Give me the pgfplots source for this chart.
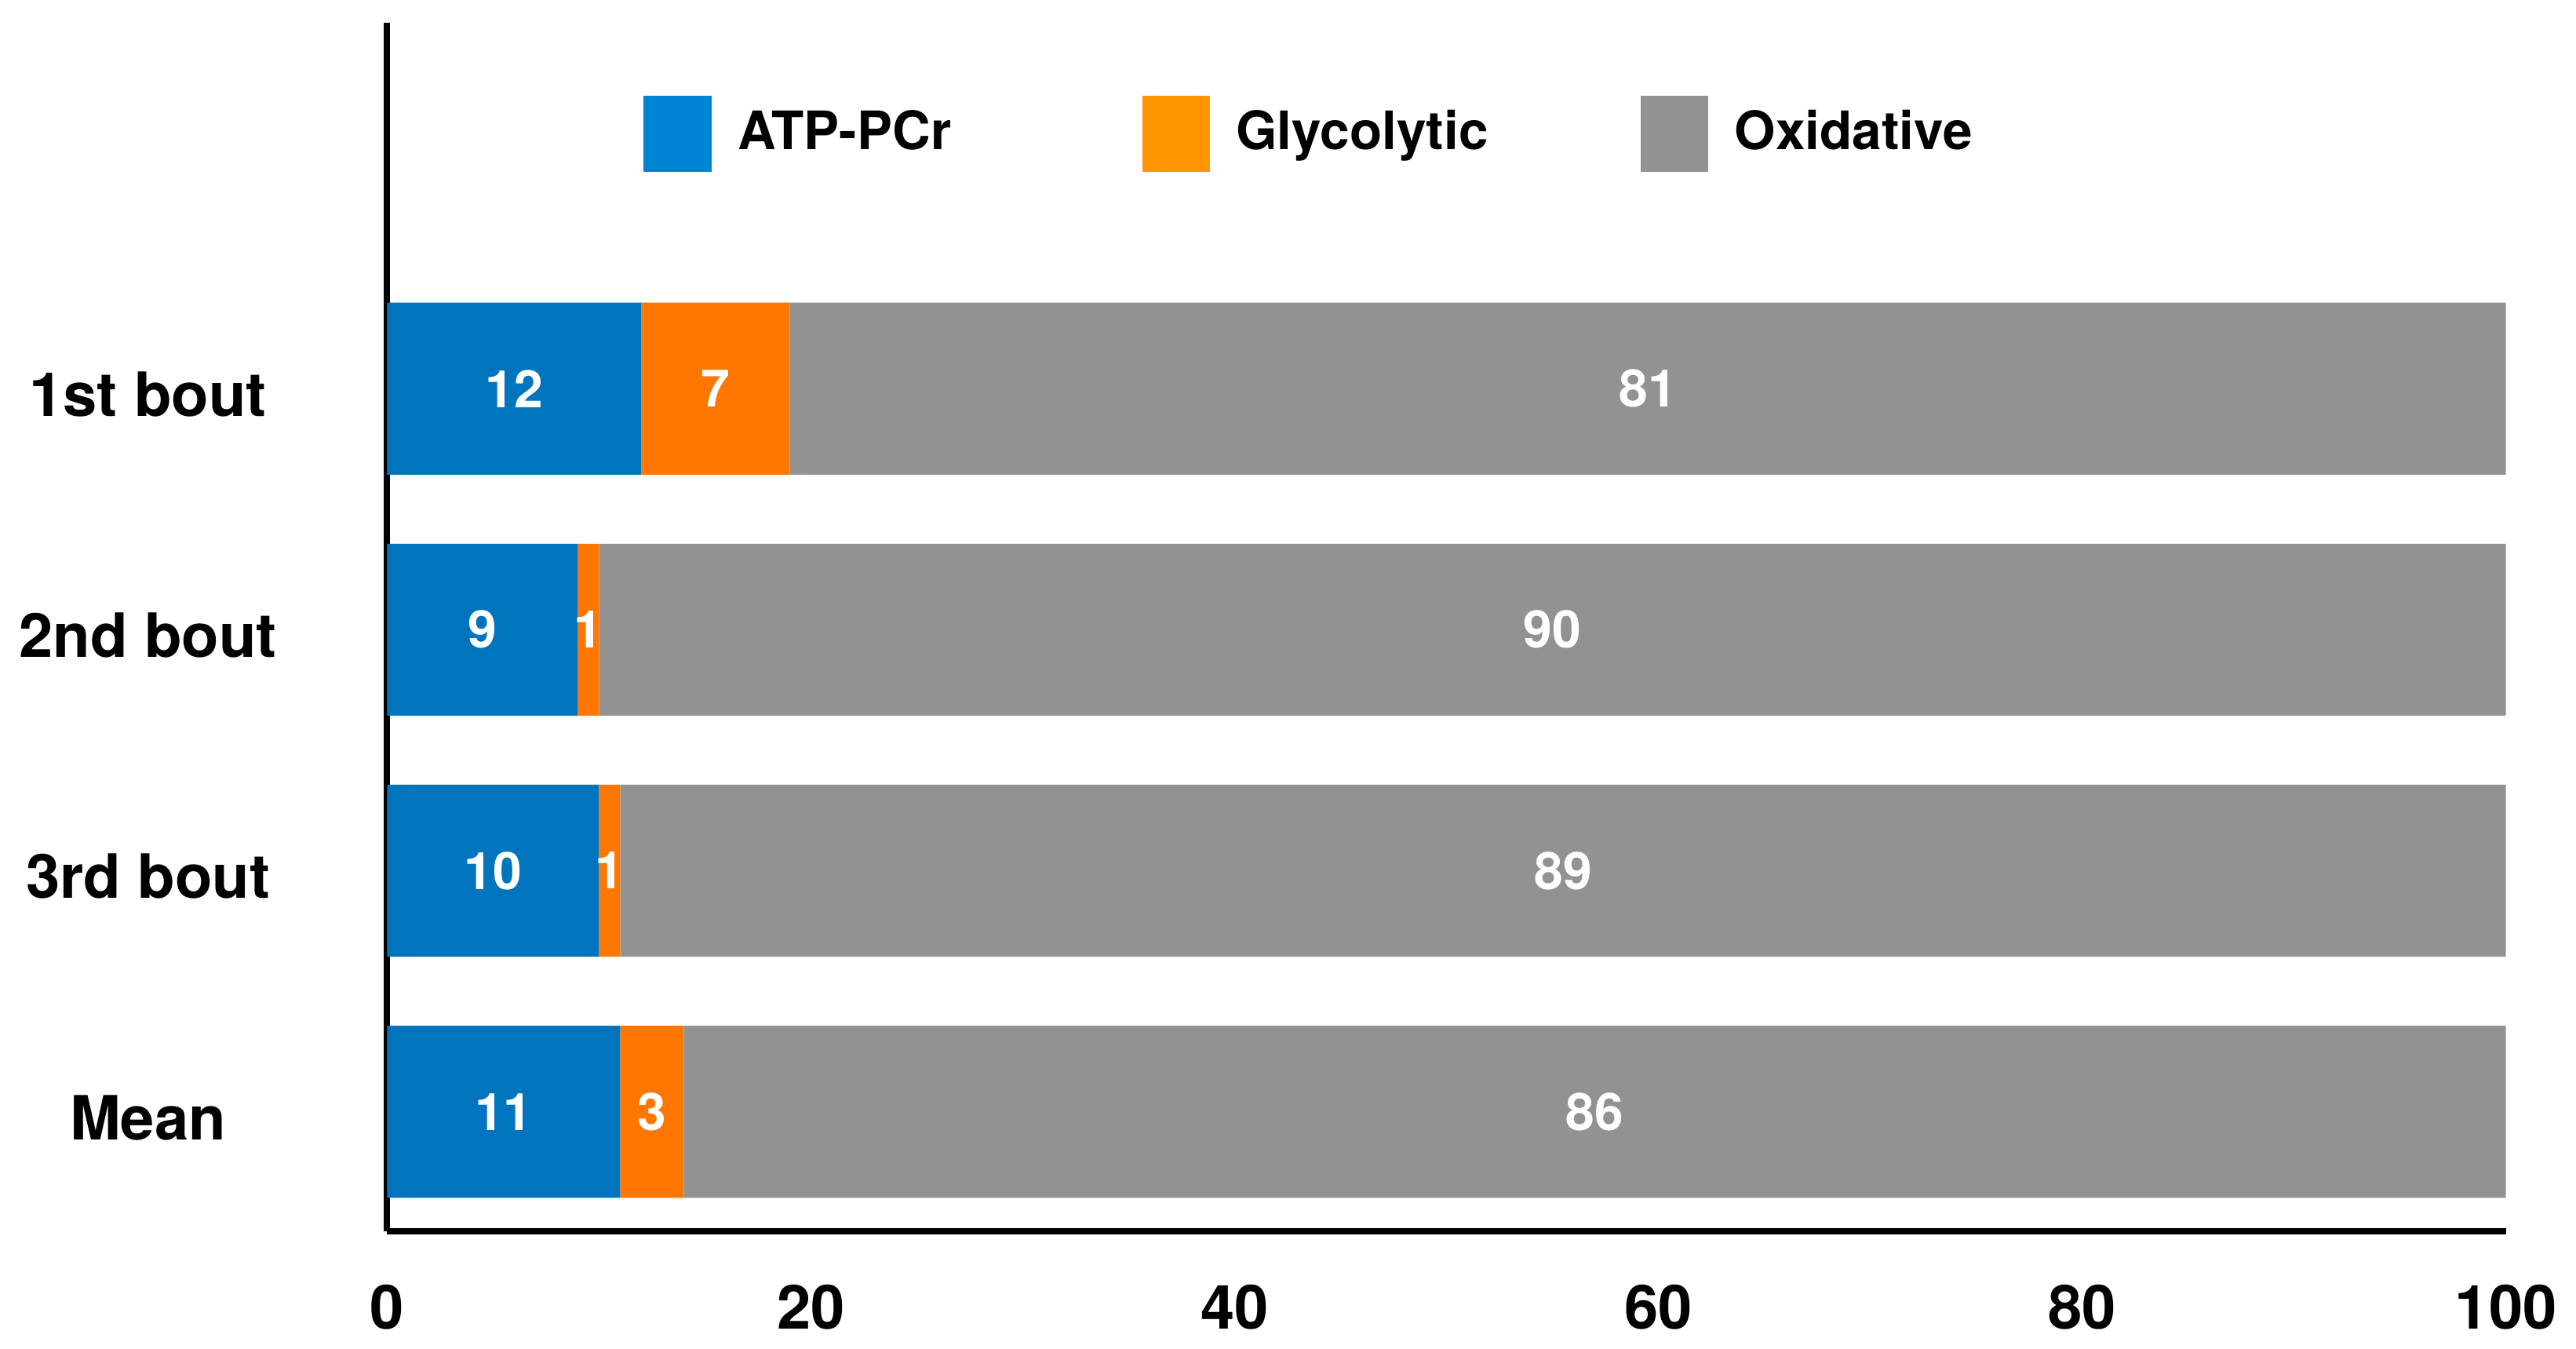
\documentclass[border=0pt]{standalone}
\usepackage{fontspec}
\setmainfont{TeX Gyre Heros}
\usepackage{pgfplots}
\usepackage{pgfplotstable}
\pgfplotsset{compat=1.18}

\definecolor{atpbar}{HTML}{0075BE}
\definecolor{glybar}{HTML}{FF7600}
\definecolor{oxibar}{HTML}{929292}
\definecolor{atpleg}{HTML}{0083D2}
\definecolor{glyleg}{HTML}{FF9500}
\definecolor{oxileg}{HTML}{929292}

% y: 3 = 1st bout ... 0 = Mean
\pgfplotstableread{
y atp gly oxi
3 12 7 81
2 9  1 90
1 10 1 89
0 11 3 86
}\energy

\begin{document}
\begin{tikzpicture}
\begin{axis}[
  xbar stacked,
  scale only axis,
  width=12.94cm, height=7.38cm,
  bar width=1.05cm,
  xmin=0, xmax=100,
  ymin=-0.497, ymax=4.517,
  xtick={0,20,40,60,80,100},
  ytick={0,1,2,3},
  yticklabels={Mean, 3rd bout, 2nd bout, 1st bout},
  axis x line*=bottom,
  axis y line*=left,
  axis line style={-, line width=1.1pt},
  major tick length=0pt,
  clip=false,
  /pgf/number format/assume math mode=true,
  ticklabel style={font=\fontsize{10.6}{12}\selectfont\bfseries},
  xticklabel style={yshift=-5.7pt},
  yticklabel style={anchor=center, xshift=-1.46cm, yshift=-0.035cm},
  % segment values, centred in each segment
  point meta=explicit,
  nodes near coords,
  every node near coord/.append style={
    anchor=center, text=white,
    font=\fontsize{9}{10}\selectfont\bfseries},
  legend columns=3,
  legend style={
    at={(0.1206,0.908)}, anchor=west,
    draw=none, fill=none, inner sep=0pt,
    nodes={inner sep=0pt},
    font=\fontsize{9.2}{11}\selectfont\bfseries,
    /tikz/column sep=0pt,
  },
  legend image code/.code={
    \fill[#1] (0cm,-0.225cm) rectangle (0.4cm,0.225cm);
  },
]
\addplot[fill=atpbar, draw=none, forget plot] table[x=atp, y=y, meta=atp] {\energy};
\addplot[fill=glybar, draw=none, forget plot] table[x=gly, y=y, meta=gly] {\energy};
\addplot[fill=oxibar, draw=none, forget plot] table[x=oxi, y=y, meta=oxi] {\energy};

\addlegendimage{atpleg}
\addlegendentry{\hspace{0.16cm}\makebox[2.47cm][l]{ATP-PCr}}
\addlegendimage{glyleg}
\addlegendentry{\hspace{0.16cm}\makebox[2.47cm][l]{Glycolytic}}
\addlegendimage{oxileg}
\addlegendentry{\hspace{0.16cm}\makebox[2.47cm][l]{Oxidative}}
\end{axis}
% page margins as in the reference
\path (current axis.south west) ++(-2.34cm,-0.70cm) rectangle ++(15.68cm,8.22cm);
\end{tikzpicture}
\end{document}
